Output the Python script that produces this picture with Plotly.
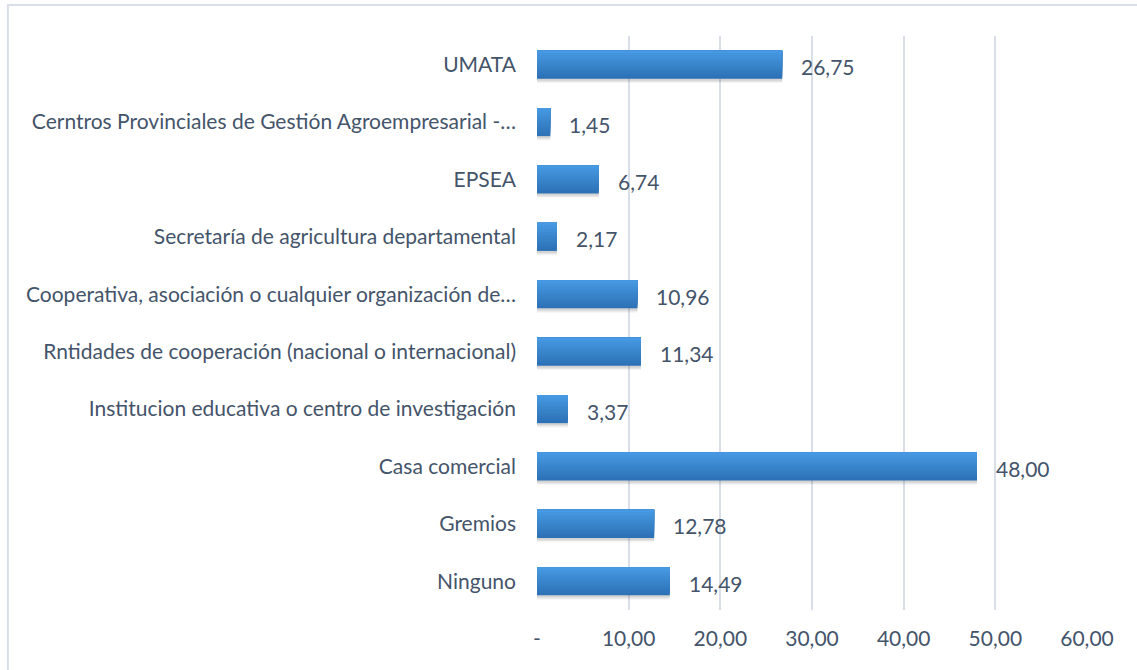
import plotly.graph_objects as go

# Categories listed bottom-to-top as drawn on the y axis
categorias = [
    "Ninguno",
    "Gremios",
    "Casa comercial",
    "Institucion educativa o centro de investigación",
    "Rntidades de cooperación (nacional o internacional)",
    "Cooperativa, asociación o cualquier organización de…",
    "Secretaría de agricultura departamental",
    "EPSEA",
    "Cerntros Provinciales de Gestión Agroempresarial -…",
    "UMATA",
]
porcentajes = [14.49, 12.78, 48.00, 3.37, 11.34, 10.96, 2.17, 6.74, 1.45, 26.75]

tick_vals = [0, 10, 20, 30, 40, 50, 60]
tick_text = ["-", "10,00", "20,00", "30,00", "40,00", "50,00", "60,00"]

TEXT = "#44546A"
GRID = "#D9DEE8"
FONT = "Lato"
FSIZE = 21

BAR_W = 0.49  # bar thickness in category units

fig = go.Figure()

# Soft drop shadow under each bar
for dy, alpha in [(0.075, 0.06), (0.055, 0.08), (0.035, 0.10)]:
    fig.add_trace(go.Bar(
        x=porcentajes, y=categorias, orientation="h",
        width=BAR_W, offset=-BAR_W / 2 - dy,
        marker=dict(color=f"rgba(60,60,60,{alpha})", line=dict(width=0)),
        hoverinfo="skip",
    ))

# Bars as overlapping layers (each reaching the bar top) for a vertical gradient
n_bands = 12
top_rgb = (0x46, 0x99, 0xE2)
bot_rgb = (0x2D, 0x71, 0xB6)
for i in range(n_bands):
    t = i / (n_bands - 1)
    rgb = tuple(round(b + (a - b) * t) for a, b in zip(top_rgb, bot_rgb))
    start = -BAR_W / 2 + i * BAR_W / n_bands
    fig.add_trace(go.Bar(
        x=porcentajes, y=categorias, orientation="h",
        width=BAR_W / 2 - start,
        offset=start,
        marker=dict(color="rgb(%d,%d,%d)" % rgb, line=dict(width=0)),
        hoverinfo="skip",
    ))

# Value labels placed just right of each bar end
for cat, val in zip(categorias, porcentajes):
    fig.add_annotation(
        x=val, y=cat, xref="x", yref="y",
        text=f"{val:.2f}".replace(".", ","),
        showarrow=False, xanchor="left", xshift=17, yshift=-2,
        font=dict(family=FONT, size=FSIZE, color=TEXT),
    )

# Outer chart border
fig.add_shape(
    type="rect", xref="paper", yref="paper",
    x0=-0.962, x1=1.1, y0=-0.12, y1=1.054,
    line=dict(color=GRID, width=2), fillcolor="rgba(0,0,0,0)", layer="below",
)

fig.update_layout(
    width=1137, height=670,
    margin=dict(l=537, r=50, t=36, b=60),
    paper_bgcolor="white", plot_bgcolor="white",
    barmode="overlay",
    showlegend=False,
    font=dict(family=FONT, size=FSIZE, color=TEXT),
    xaxis=dict(
        range=[0, 60], tickvals=tick_vals, ticktext=tick_text,
        showgrid=True, gridcolor=GRID, gridwidth=2,
        zeroline=False, showline=False,
        ticks="", ticklabelstandoff=14,
        tickfont=dict(family=FONT, size=FSIZE, color=TEXT),
        fixedrange=True,
    ),
    yaxis=dict(
        categoryorder="array", categoryarray=categorias,
        showgrid=False, zeroline=False, showline=False,
        ticks="", ticklabelstandoff=20,
        tickfont=dict(family=FONT, size=FSIZE, color=TEXT),
        fixedrange=True,
    ),
)

fig.write_html("out.html")
